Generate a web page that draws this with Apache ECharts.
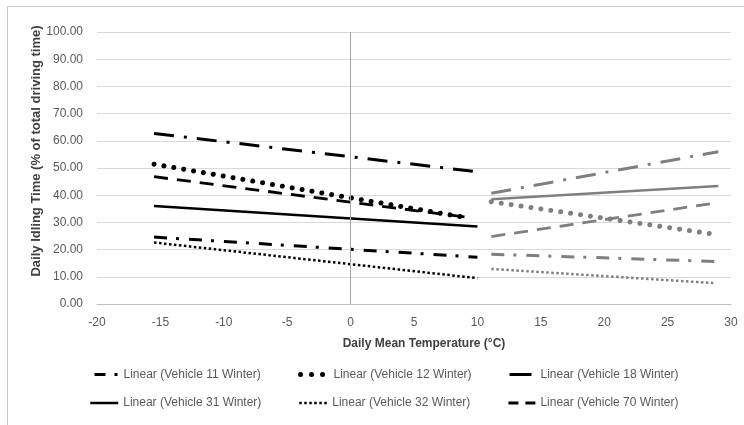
<!DOCTYPE html>
<html>
<head>
<meta charset="utf-8">
<script src="https://cdn.jsdelivr.net/npm/echarts@6/dist/echarts.min.js"></script>
<style>
html,body{margin:0;padding:0;background:#fff;}
#chart{width:744px;height:425px;}
</style>
</head>
<body>
<div id="chart"></div>
<script>
// ---- data ----
const vehicleNames = ['Vehicle 11', 'Vehicle 12', 'Vehicle 18', 'Vehicle 31', 'Vehicle 32', 'Vehicle 70'];
const winterX = [[-15.5, 10], [-15.5, 9.3], [-15.5, 10], [-15.5, 10], [-15.5, 10], [-15.5, 9.3]];
const winterY = [[24.6, 17.2], [51.4, 31.6], [62.7, 48.6], [36.0, 28.5], [22.6, 9.5], [46.8, 31.8]];
const summerX = [[11.1, 29], [11.1, 28.6], [11.1, 29], [11.1, 29], [11.1, 28.6], [11.1, 29]];
const summerY = [[18.3, 15.6], [37.6, 25.7], [40.7, 56.0], [38.5, 43.4], [12.9, 7.7], [24.8, 37.3]];
const xAxisRange = [-20, 30, 5];
const yAxisRange = [0, 100, 10];
const xTitle = 'Daily Mean Temperature (°C)';
const yTitle = 'Daily Idling Time (% of total driving time)';

// ---- styles ----
const lineStyles = [
  { type: [13, 9, 3, 10], width: 3, cap: 'butt' },     // V11 dash-dot
  { type: [0.01, 10], width: 5, cap: 'round' },         // V12 round dot
  { type: [20, 10, 3, 10], width: 3, cap: 'butt' },     // V18 long dash dot
  { type: 'solid', width: 2.5, cap: 'butt' },           // V31 solid
  { type: [2.5, 2.5], width: 2.5, cap: 'butt' },        // V32 square dot
  { type: [14, 9], width: 2.8, cap: 'butt' }            // V70 dash
];
const legendDash = [[11, 9, 3, 10], [0.01, 11], [22, 10], 'solid', [2.5, 2.5], [10, 7]];
const FONT = 'Liberation Sans';

const series = [];
vehicleNames.forEach((v, i) => {
  series.push({
    name: 'Linear (' + v + ' Winter)',
    type: 'line',
    symbol: 'none',
    silent: true,
    data: winterX[i].map((x, k) => [x, winterY[i][k]]),
    lineStyle: Object.assign({ color: '#000000' }, lineStyles[i]),
    itemStyle: { color: '#000000' },
    z: 3
  });
});
vehicleNames.forEach((v, i) => {
  series.push({
    name: 'Linear (' + v + ' Summer)',
    type: 'line',
    symbol: 'none',
    silent: true,
    data: summerX[i].map((x, k) => [x, summerY[i][k]]),
    lineStyle: Object.assign({ color: '#7f7f7f' }, lineStyles[i]),
    itemStyle: { color: '#7f7f7f' },
    z: 3
  });
});
// vertical axis line at x = 0
series[0].markLine = {
  silent: true,
  symbol: 'none',
  label: { show: false },
  lineStyle: { color: '#a6a6a6', type: 'solid', width: 1 },
  data: [{ xAxis: 0 }],
  animation: false
};

const legendTextX = [122, 331, 539];
const legendRowY = [375.5, 404];
const legendIconW = [24, 28, 26, 28, 28, 27];
const legends = [];
vehicleNames.forEach((v, i) => {
  const row = Math.floor(i / 3), col = i % 3;
  legends.push({
    data: ['Linear (' + v + ' Winter)'],
    left: legendTextX[col] - 5 - legendIconW[i],
    top: legendRowY[row] - 7,
    itemWidth: legendIconW[i],
    itemHeight: 14,
    padding: 0,
    selectedMode: false,
    itemStyle: { opacity: 0 },
    lineStyle: { width: lineStyles[i].width, type: legendDash[i], cap: lineStyles[i].cap, color: '#000000' },
    textStyle: { fontFamily: FONT, fontSize: 12, color: '#595959' }
  });
});

const chart = echarts.init(document.getElementById('chart'), null, { renderer: 'canvas' });
chart.setOption({
  animation: false,
  backgroundColor: '#ffffff',
  grid: { left: 97, right: 13, top: 32, bottom: 121, containLabel: false },
  xAxis: {
    type: 'value',
    min: xAxisRange[0], max: xAxisRange[1], interval: xAxisRange[2],
    axisLine: { show: true, onZero: false, lineStyle: { color: '#bfbfbf', width: 1 } },
    axisTick: { show: false },
    splitLine: { show: false },
    axisLabel: { fontFamily: FONT, fontSize: 12, color: '#595959', margin: 13 }
  },
  yAxis: {
    type: 'value',
    min: yAxisRange[0], max: yAxisRange[1], interval: yAxisRange[2],
    axisLine: { show: false },
    axisTick: { show: false },
    splitLine: { show: true, lineStyle: { color: '#d9d9d9', width: 1 } },
    axisLabel: { fontFamily: FONT, fontSize: 12, color: '#595959', margin: 14,
      formatter: v => v.toFixed(2) }
  },
  legend: legends,
  series: series,
  graphic: [
    { type: 'rect', shape: { x: 7.5, y: 6.5, width: 800, height: 500 },
      style: { fill: null, stroke: '#c8c8c8', lineWidth: 1 }, silent: true, z: -1 },
    { type: 'text', x: 424, y: 344, silent: true,
      style: { text: xTitle, fontFamily: FONT, fontSize: 12, fontWeight: 'bold', fill: '#404040',
        align: 'center', verticalAlign: 'middle' } },
    { type: 'text', x: 36, y: 151, rotation: Math.PI / 2, silent: true,
      style: { text: yTitle, fontFamily: FONT, fontSize: 13, fontWeight: 'bold', fill: '#404040',
        align: 'center', verticalAlign: 'middle' } }
  ]
});
</script>
</body>
</html>
